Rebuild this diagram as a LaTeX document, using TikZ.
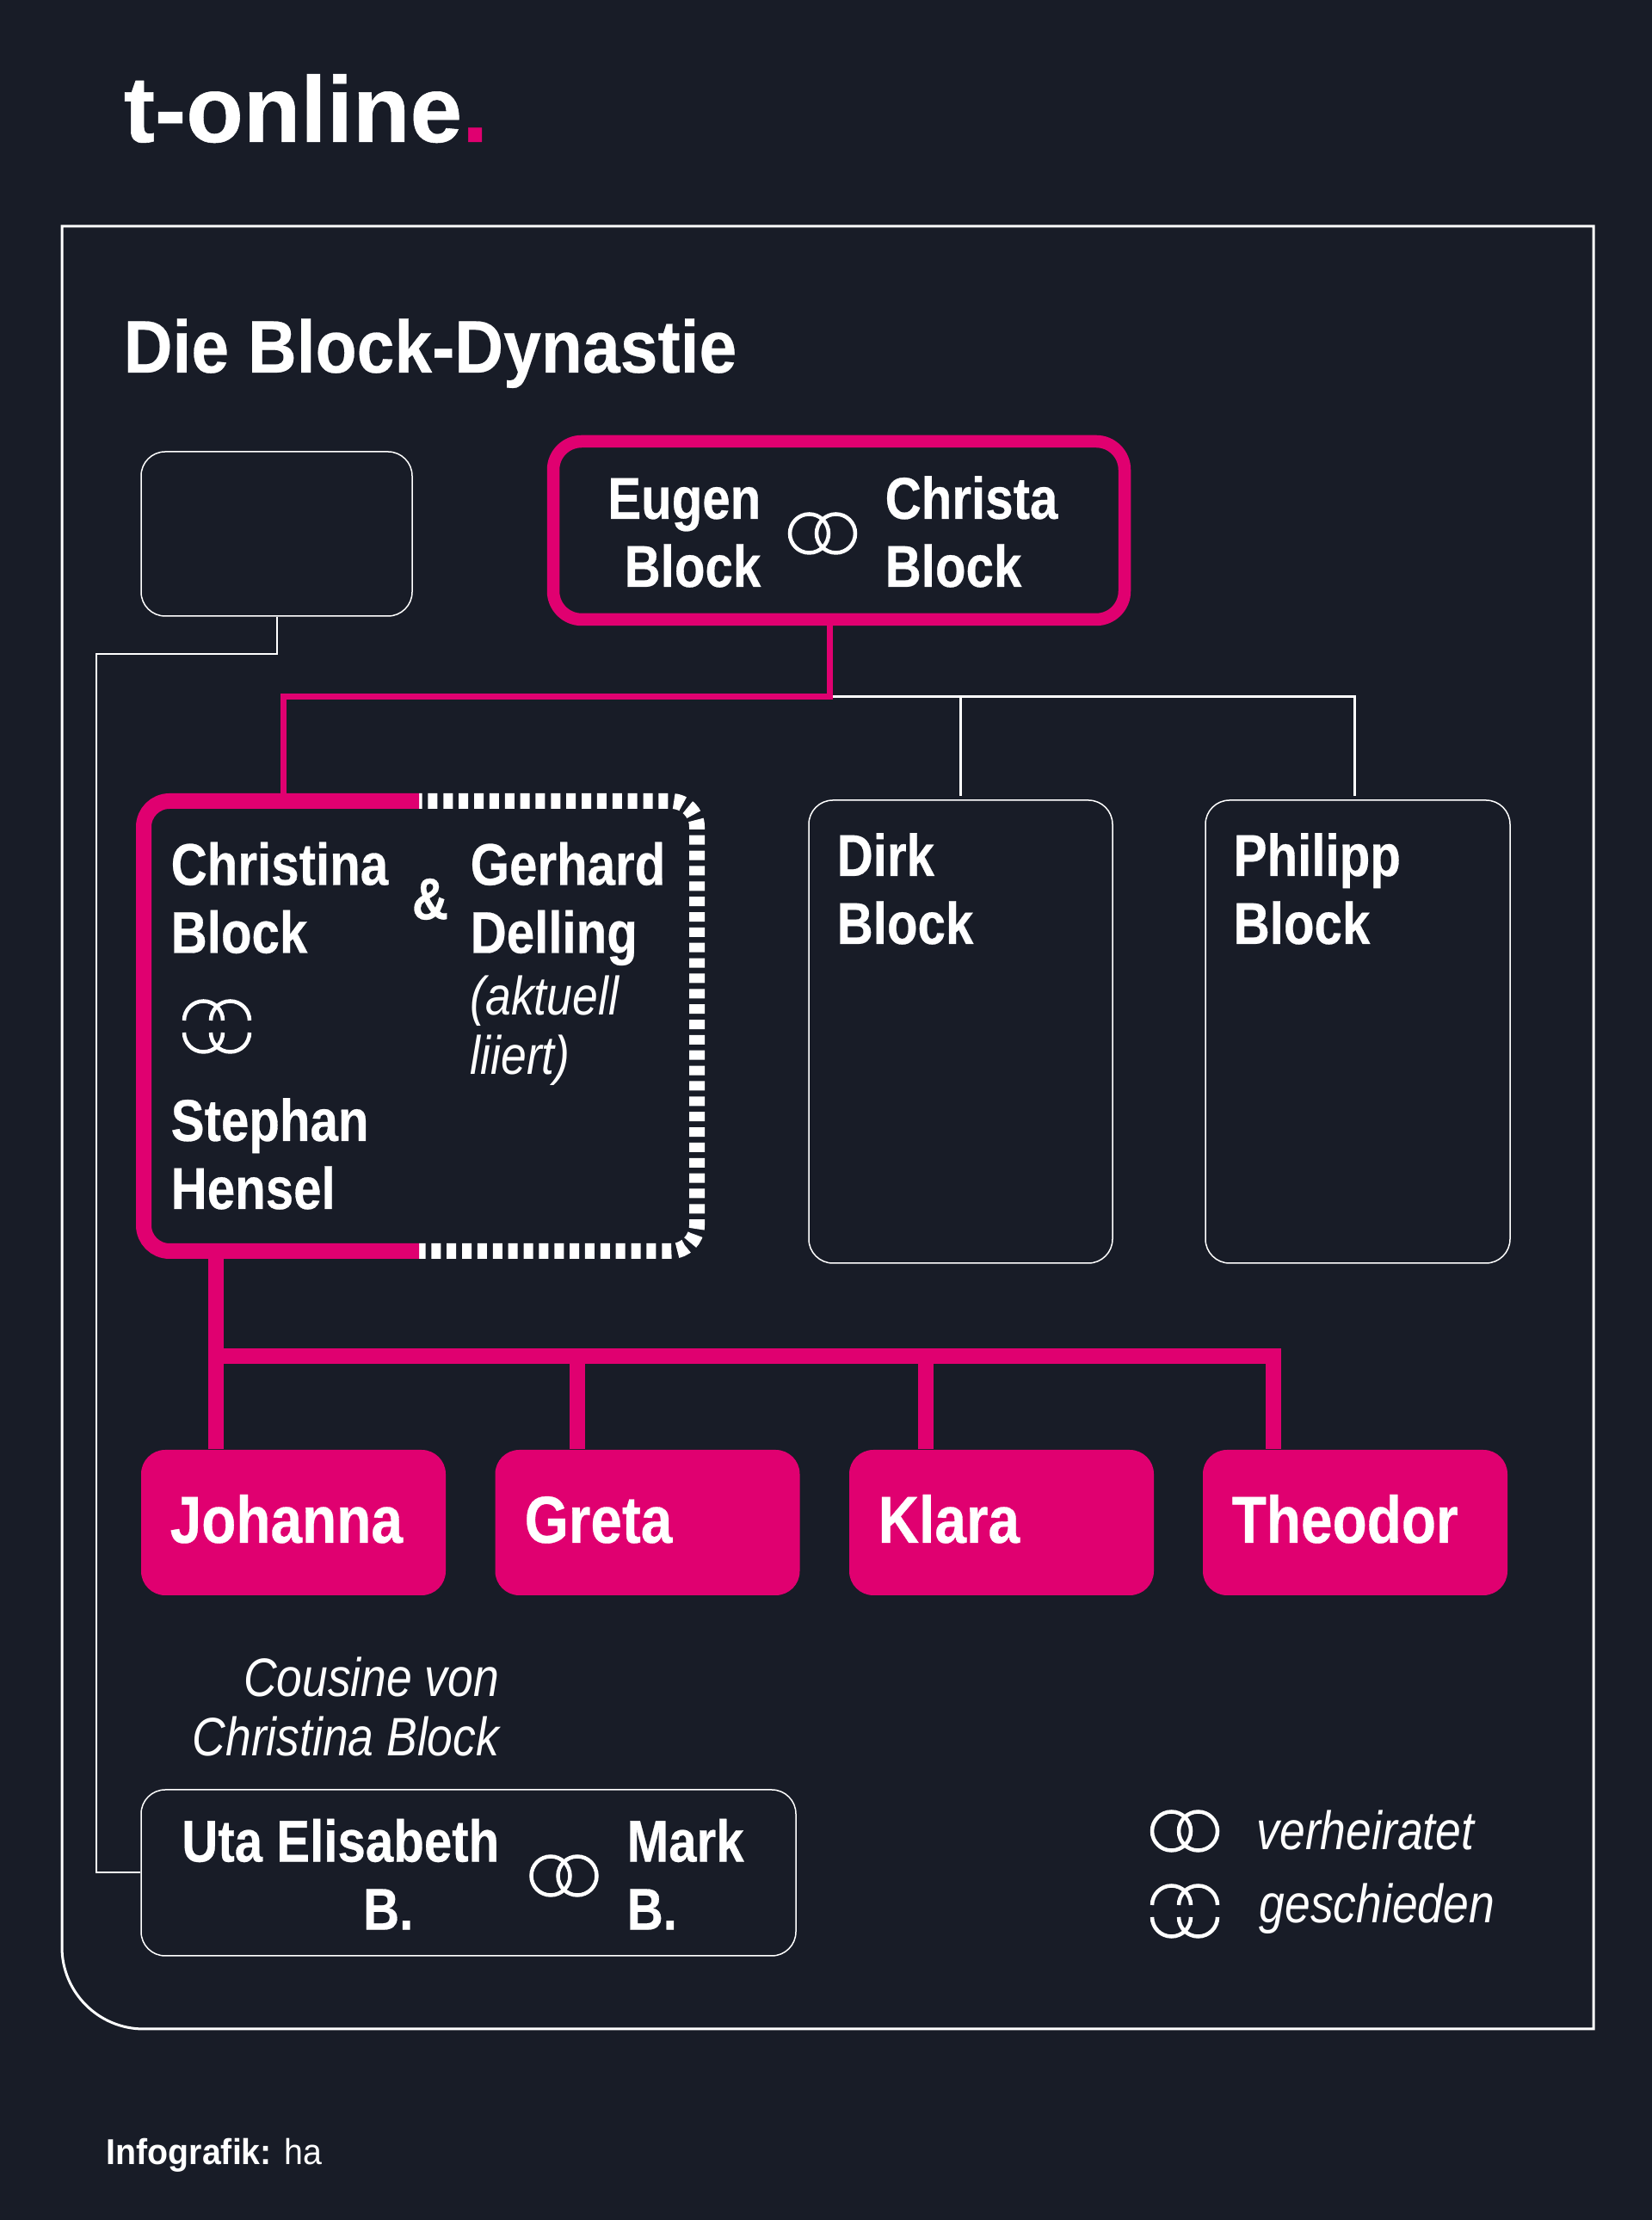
\documentclass[tikz,border=0pt]{standalone}
\usepackage{fontspec}
\setmainfont{Liberation Sans}
\newfontfamily\namefont[FakeStretch=0.85, BoldFeatures={FakeBold=0.4}]{Liberation Sans}
\newfontfamily\titlefont[FakeStretch=0.91, BoldFeatures={FakeBold=0.3}]{Liberation Sans}
\newfontfamily\logofont[BoldFeatures={FakeBold=0.5}]{Liberation Sans}
\newfontfamily\creditfont[FakeStretch=0.94]{Liberation Sans}
\usetikzlibrary{positioning}

\definecolor{bgdark}{HTML}{181C27}
\definecolor{tpink}{HTML}{E00070}

\tikzset{
  thinbox/.style={draw=white, rectangle, rounded corners=0.28cm, line width=0.015cm},
  kidbox/.style={fill=tpink, rectangle, rounded corners=0.28cm, minimum width=3.54cm, minimum height=1.69cm},
  nametext/.style={text=white, inner sep=0pt, font=\namefont\fontsize{19.5}{22.5}\selectfont\bfseries},
  kidtext/.style={text=white, inner sep=0pt, font=\namefont\fontsize{22}{26}\selectfont\bfseries},
  notetext/.style={text=white, inner sep=0pt, font=\namefont\fontsize{17.9}{19.8}\selectfont\itshape},
  whiteline/.style={draw=white, line width=0.03cm},
  pinkline/.style={draw=tpink, line width=0.07cm},
  fatline/.style={draw=tpink, line width=0.18cm},
  ringline/.style={draw=white, line width=0.045cm},
  rings/.pic={
    \draw[ringline] (-0.155,0) circle (0.225);
    \draw[ringline] (0.155,0) circle (0.225);
  },
  splitrings/.pic={
    \foreach \rx in {-0.155,0.155} {
      \draw[ringline] (\rx-0.225,0.07) arc[start angle=180, end angle=0, radius=0.225];
      \draw[ringline] (\rx-0.225,-0.07) arc[start angle=180, end angle=360, radius=0.225];
    }
  }
}

\begin{document}
\begin{tikzpicture}
  \fill[bgdark] (0,0) rectangle (19.2,25.8);
  \useasboundingbox (0,0) rectangle (19.2,25.8);

  % Kopf
  \node[anchor=base west, inner sep=0pt, text=white, font=\logofont\fontsize{31}{31}\selectfont\bfseries] (logo) at (1.43,24.15) {t-online\textcolor{tpink}{.}};
  \draw[whiteline] (0.72,23.17) -- (18.52,23.17) -- (18.52,2.22) -- (1.67,2.22)
    arc[start angle=270, end angle=180, radius=0.95] -- cycle;
  \node[anchor=base west, inner sep=0pt, text=white, font=\titlefont\fontsize{24.6}{26}\selectfont\bfseries] (title) at (1.43,21.47) {Die Block-Dynastie};

  % Eltern
  \node[thinbox, minimum width=3.15cm, minimum height=1.91cm] (unknown) at (3.215,19.595) {};
  \node[draw=tpink, rectangle, rounded corners=0.33cm, line width=0.145cm, minimum width=6.64cm, minimum height=2.07cm] (parents) at (9.75,19.635) {};
  \node[nametext, anchor=base east, align=right] (eugen) at (8.85,18.98) {Eugen\\Block};
  \node[nametext, anchor=base west, align=left] (christa) at (10.28,18.98) {Christa\\Block};
  \pic (parentrings) at (9.56,19.60) {rings};

  % Kinder von Eugen und Christa
  \node[rectangle, minimum width=6.43cm, minimum height=5.23cm] (christina) at (4.885,13.875) {};
  \node[thinbox, minimum width=3.53cm, minimum height=5.38cm] (dirk) at (11.165,13.81) {};
  \node[thinbox, minimum width=3.54cm, minimum height=5.38cm] (philipp) at (15.78,13.81) {};

  % Verbindungen
  \coordinate (fork) at (9.64,17.70);
  \coordinate (drop) at (3.29,16.49);
  \draw[whiteline] (fork) -- ([xshift=-0.04cm]fork -| philipp.north) -- ([xshift=-0.04cm, yshift=0.04cm]philipp.north);
  \draw[whiteline] (fork -| dirk.north) -- ([yshift=0.04cm]dirk.north);
  \draw[pinkline] (parents.south -| fork) -- (fork) -- (fork -| drop) -- (drop);

  % Christina
  \coordinate (splittop) at (4.87,16.49);
  \coordinate (splitbot) at (4.87,11.26);
  \draw[draw=white, line width=0.18cm, rounded corners=0.3cm, dash pattern=on 0.11cm off 0.0686cm, dash phase=0.074cm]
    (splittop) -- (8.10,16.49) -- (8.10,11.26) -- (splitbot);
  \draw[fatline, rounded corners=0.3cm] (splittop) -- (1.67,16.49) -- (1.67,11.26) -- (splitbot);
  \node[nametext, anchor=base west, align=left] (christinaname) at (1.98,14.725) {Christina\\Block};
  \node[nametext, anchor=base west, align=left] (gerhard) at (5.46,14.725) {Gerhard\\Delling};
  \node[nametext, anchor=center] (und) at (5.00,15.35) {\&};
  \node[notetext, anchor=base west, align=left] (aktuell) at (5.46,13.31) {(aktuell\\liiert)};
  \pic (exrings) at (2.52,13.87) {splitrings};
  \node[nametext, anchor=base west, align=left] (stephan) at (1.98,11.75) {Stephan\\Hensel};
  \node[nametext, anchor=base west, align=left] (dirkname) at (9.72,14.83) {Dirk\\Block};
  \node[nametext, anchor=base west, align=left] (philippname) at (14.33,14.83) {Philipp\\Block};

  % Enkel
  \node[kidbox] (johanna) at (3.41,8.105) {};
  \node[kidbox] (greta) at (7.525,8.105) {};
  \node[kidbox] (klara) at (11.64,8.105) {};
  \node[kidbox] (theodor) at (15.75,8.105) {};
  \node[kidtext, anchor=base west] (johannaname) at (1.97,7.87) {Johanna};
  \node[kidtext, anchor=base west] (gretaname) at (6.09,7.87) {Greta};
  \node[kidtext, anchor=base west] (klaraname) at (10.20,7.87) {Klara};
  \node[kidtext, anchor=base west] (theodorname) at (14.31,7.87) {Theodor};

  \coordinate (kidbar) at (2.51,10.04);
  \draw[fatline] (christina.south -| kidbar) -- (kidbar);
  \foreach \kid/\dx in {johanna/-0.90, greta/-0.815, klara/-0.88} {
    \draw[fatline] ([xshift=\dx cm]\kid.north) -- ([xshift=\dx cm]\kid.north |- kidbar);
  }
  \draw[fatline] (kidbar) -- ([xshift=-0.95cm]theodor.north |- kidbar) -- ([xshift=-0.95cm]theodor.north);

  % Cousine
  \node[thinbox, minimum width=7.61cm, minimum height=1.93cm] (uta) at (5.445,4.035) {};
  \node[notetext, anchor=base east, align=right] (cousine) at (5.81,5.39) {Cousine von\\Christina Block};
  \node[nametext, anchor=base east, align=right] (utaname) at (5.81,3.374) {Uta Elisabeth\\B.\hspace*{1cm}};
  \node[nametext, anchor=base west, align=left] (mark) at (7.28,3.374) {Mark\\B.};
  \pic (utarings) at (6.555,4.00) {rings};
  \coordinate (bendtop) at (1.12,18.20);
  \draw[whiteline, line width=0.02cm] (unknown.south) -- (unknown.south |- bendtop) -- (bendtop) -- (bendtop |- uta.west) -- (uta.west);

  % Legende
  \pic (marriedrings) at (13.77,4.52) {rings};
  \pic (divorcedrings) at (13.77,3.59) {splitrings};
  \node[notetext, anchor=base west] (verheiratet) at (14.60,4.30) {verheiratet};
  \node[notetext, anchor=base west] (geschieden) at (14.63,3.45) {geschieden};

  % Fuss
  \node[anchor=base west, inner sep=0pt, text=white, font=\creditfont\fontsize{11.9}{14}\selectfont] (credit) at (1.23,0.64) {\textbf{Infografik:} ha};
\end{tikzpicture}
\end{document}
